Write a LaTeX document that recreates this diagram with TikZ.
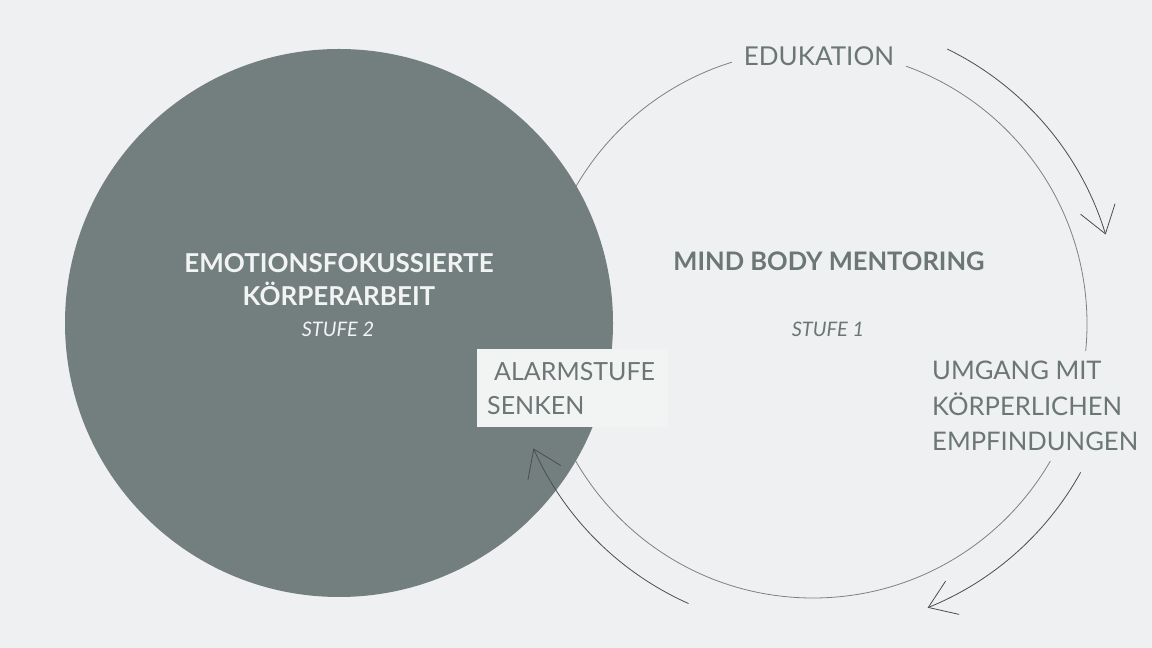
\documentclass[tikz,border=0pt]{standalone}
\usepackage{fontspec}
\setmainfont{Lato}
\usepackage{xcolor}
\usetikzlibrary{arrows.meta}
\definecolor{bg}{HTML}{EEF0F1}
\definecolor{sage}{HTML}{737F7E}
\definecolor{txt}{HTML}{6B7675}
\definecolor{lite}{HTML}{F2F4F4}
\definecolor{pen}{HTML}{4D4D4D}

\begin{document}
\begin{tikzpicture}[x=1pt,y=1pt,
  lbl/.style={text=txt, font=\fontsize{25.6}{35.8}\selectfont},
  head/.style={font=\bfseries\fontsize{26}{33}\selectfont, inner sep=0pt},
  lvl/.style={font=\itshape\fontsize{20}{22}\selectfont, inner sep=0pt},
  cyc/.style={draw=pen, line width=0.8pt, -{Straight Barb[length=26pt,width=36pt]}}]
\fill[bg] (0,0) rectangle (1152,648);
\useasboundingbox (0,0) rectangle (1152,648);

\coordinate (m) at (813,324);
\coordinate (e) at (339,325);
\draw[draw=gray, line width=0.8pt] (m) circle[radius=274];
\fill[sage] (e) circle[radius=274];

\node[head, text=lite, align=center, anchor=base] (efk) at (339,342) {EMOTIONSFOKUSSIERTE\\KÖRPERARBEIT};
\node[lvl, text=lite, anchor=base] (s2) at (338,311) {STUFE 2};
\node[head, text=txt, font=\bfseries\fontsize{25.5}{33}\selectfont, anchor=base] (mbm) at (829,377) {MIND BODY MENTORING};
\node[lvl, text=txt, anchor=base] (s1) at (828,311) {STUFE 1};

\node[lbl, font=\fontsize{26}{36}\selectfont, fill=bg, inner xsep=12pt, inner ysep=6pt, anchor=base] (edu) at (819,582) {EDUKATION};
\node[lbl, fill=bg, inner sep=10pt, align=left, anchor=base west] (umg) at (922,197) {UMGANG MIT\\KÖRPERLICHEN\\EMPFINDUNGEN};
\node[lbl, font=\fontsize{25}{34}\selectfont, fill=lite, inner xsep=10pt, inner ysep=0pt, minimum height=78pt, text width=171pt, align=left, anchor=north west] (alarm) at (477,299) {\hspace*{7pt}ALARMSTUFE\\SENKEN};

\draw[cyc] (m) ++(64:306) arc[start angle=64, end angle=17, radius=306];
\draw[cyc] (m) ++(-29:306) arc[start angle=-29, end angle=-68, radius=306];
\draw[cyc] (m) ++(-114:306) arc[start angle=-114, end angle=-156, radius=306];
\end{tikzpicture}
\end{document}
